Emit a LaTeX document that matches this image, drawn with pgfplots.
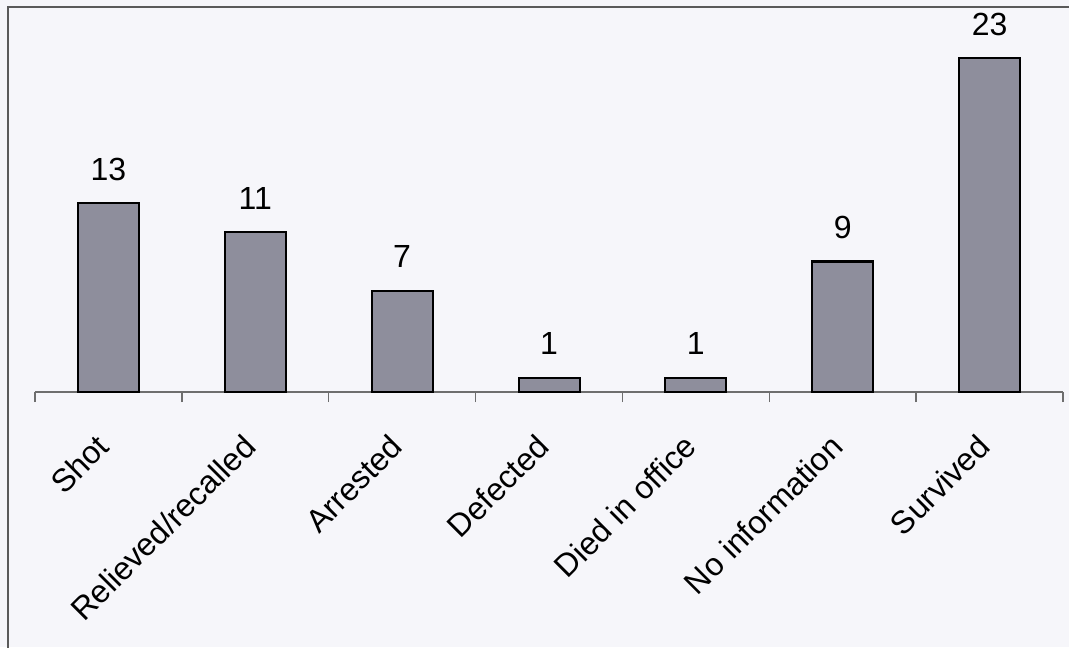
\documentclass[border=0pt]{standalone}
\usepackage{fontspec}
\setmainfont{Liberation Sans}
\usepackage{pgfplots}
\pgfplotsset{compat=1.18}
\definecolor{bg}{RGB}{246,246,250}
\definecolor{barfill}{RGB}{142,142,156}
\definecolor{axgray}{RGB}{110,110,110}
\definecolor{framegray}{RGB}{90,90,90}
\begin{document}
\begin{tikzpicture}
\path[use as bounding box, fill=bg] (0,0) rectangle (534.5pt,323.5pt);
\draw[framegray, line width=1pt] (4pt,-5pt) -- (4pt,320pt) -- (540pt,320pt);
\begin{axis}[
  at={(17.5pt,127.5pt)}, anchor=south west,
  scale only axis, width=514pt, height=181.25pt,
  xmin=-0.5, xmax=6.5, ymin=0, ymax=25,
  clip=false,
  /pgf/number format/assume math mode=true,
  axis x line*=bottom, axis y line=none,
  axis line style={draw=axgray, line width=0.75pt},
  xtick={0,1,2,3,4,5,6},
  xticklabels={Shot, Relieved/recalled, Arrested, Defected, Died in office, No information, Survived},
  major tick length=0pt,
  xticklabel style={xshift=-7pt, yshift=-20pt, rotate=45, anchor=north east, inner sep=0pt, font=\fontsize{16}{19}\selectfont},
  extra x ticks={-0.5,0.5,1.5,2.5,3.5,4.5,5.5,6.5},
  extra x tick labels={},
  extra x tick style={major tick length=5pt, tick align=outside, tick style={draw=axgray, line width=0.75pt}},
  ytick=\empty,
  ybar, bar width=30.5pt,
  nodes near coords,
  every node near coord/.append style={font=\fontsize{16}{19}\selectfont, inner sep=0pt, anchor=south, yshift=11pt},
]
\addplot[fill=barfill, draw=black, line width=1pt] coordinates {(0,13) (1,11) (2,7) (3,1) (4,1) (5,9) (6,23)};
\end{axis}
\end{tikzpicture}
\end{document}
